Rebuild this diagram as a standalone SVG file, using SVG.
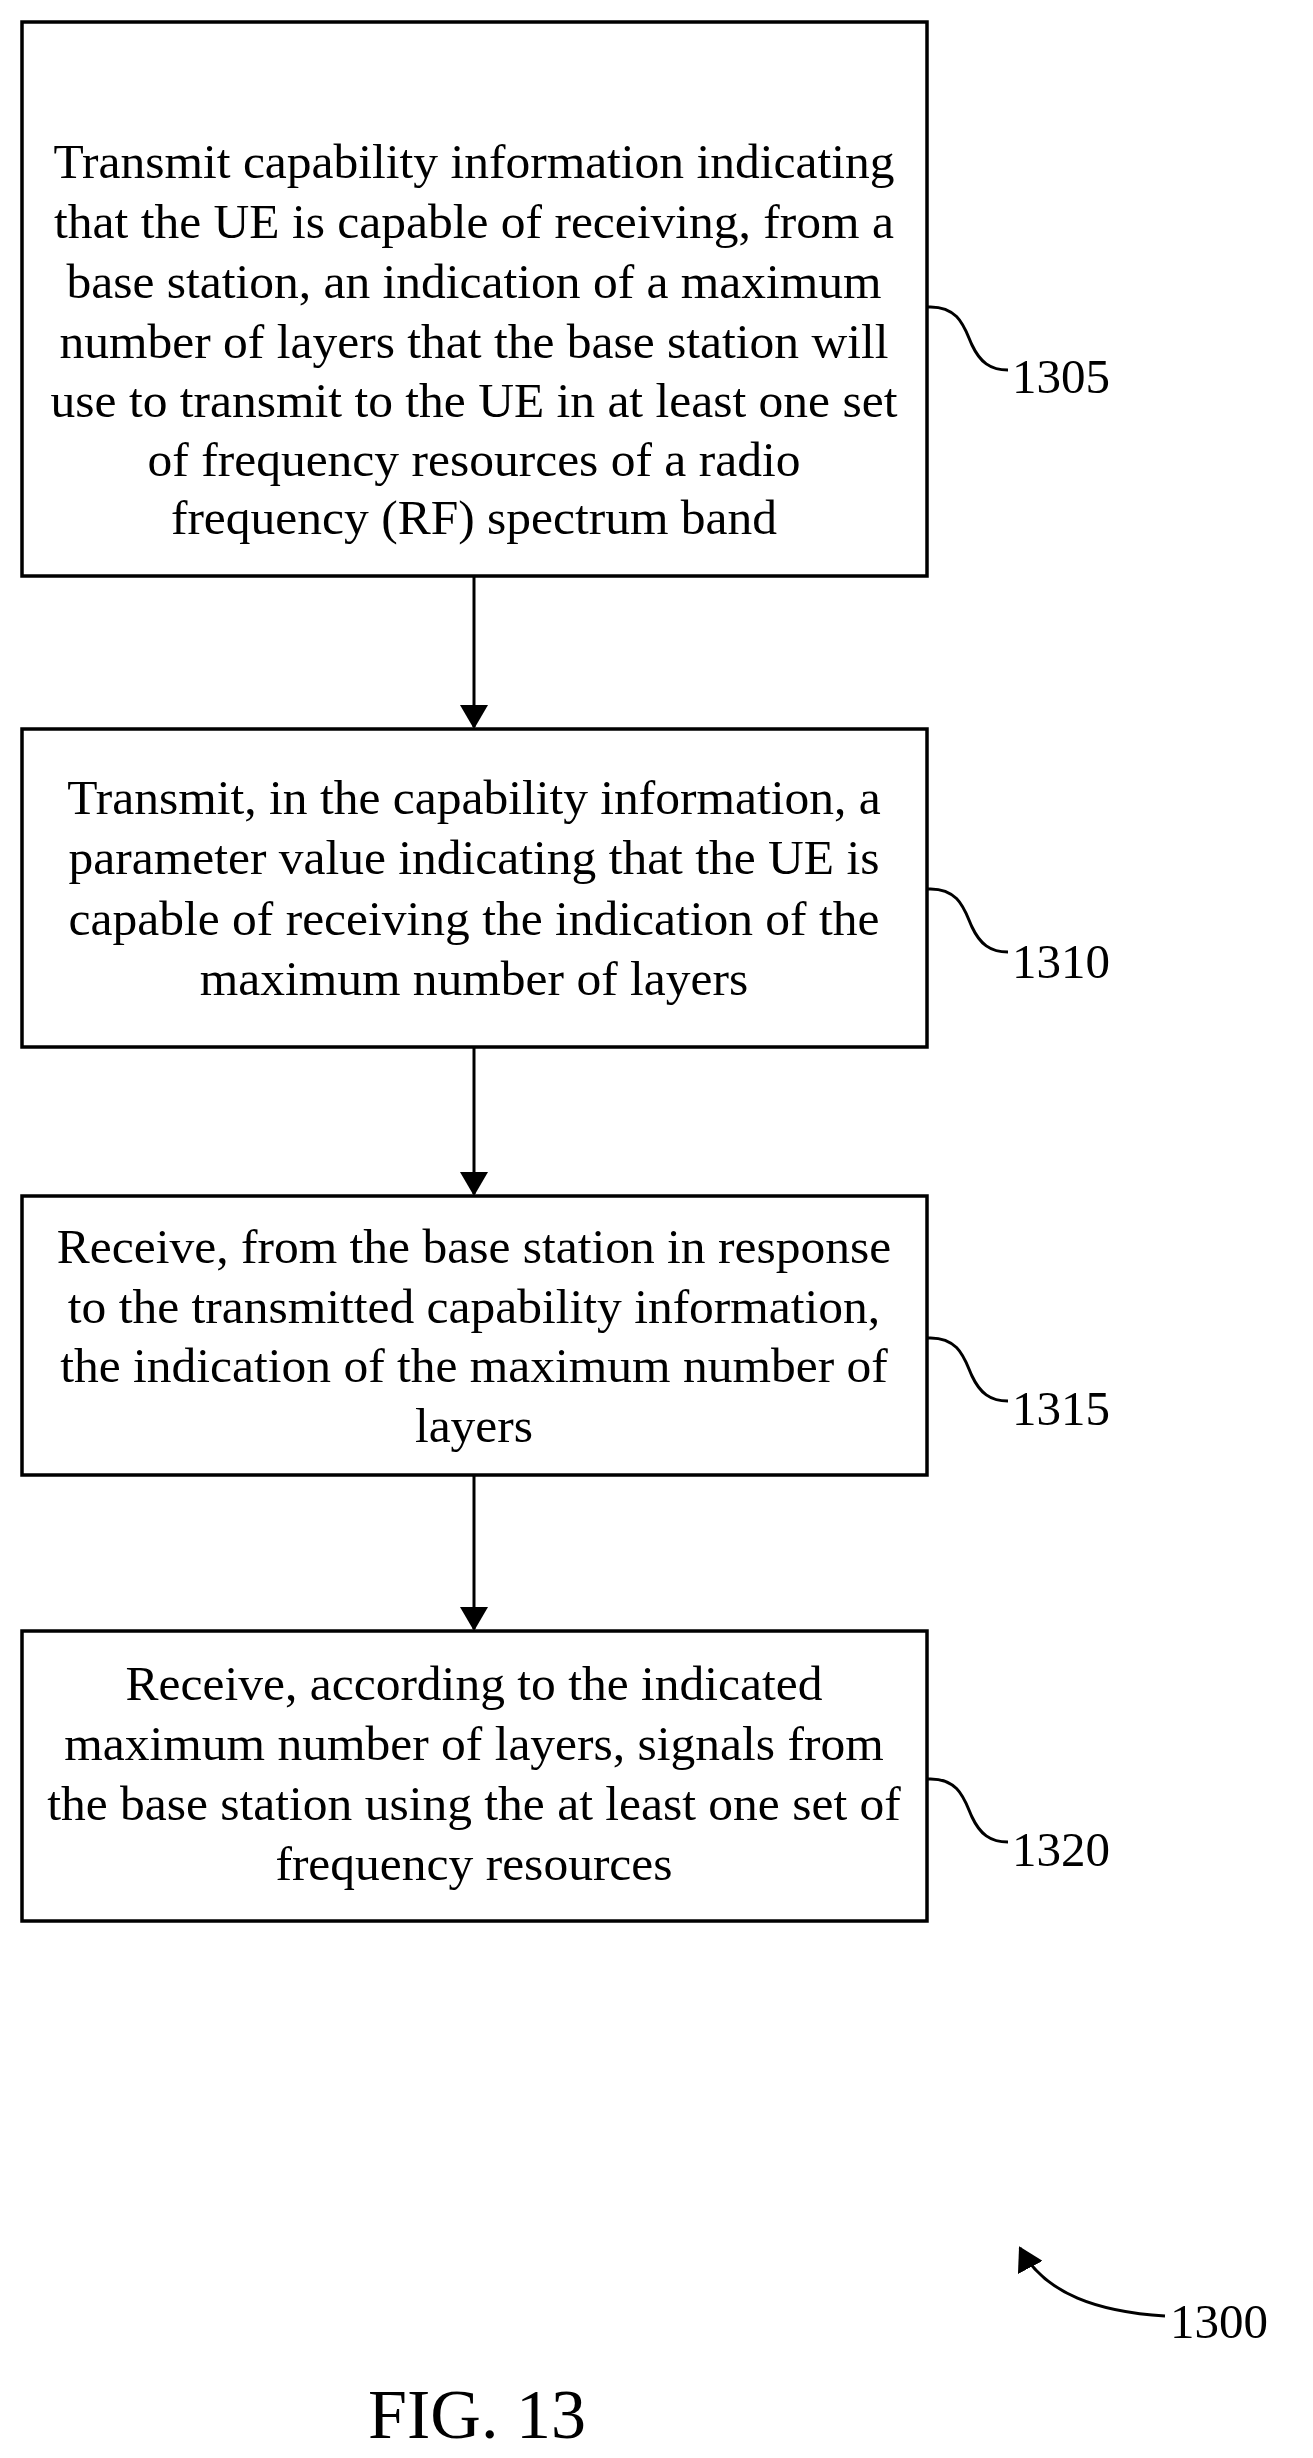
<svg xmlns="http://www.w3.org/2000/svg" width="1313" height="2458" viewBox="0 0 1313 2458">
<style>
.box{fill:#fff;stroke:#000;stroke-width:3.5}
.t{font-family:"Liberation Serif",serif;font-size:49.5px;text-anchor:middle;fill:#000}
.l{font-family:"Liberation Serif",serif;font-size:49px;fill:#000}
.c{fill:none;stroke:#000;stroke-width:3}
</style>
<defs><marker id="ab" markerWidth="24" markerHeight="28" refX="22" refY="14" orient="auto" markerUnits="userSpaceOnUse" viewBox="0 0 24 28"><path d="M0,0 L24,14 L0,28 z" fill="#000"/></marker></defs>
<rect width="1313" height="2458" fill="#fff"/>
<g id="n1305"><rect class="box" x="22" y="22" width="905" height="554"/>
<text class="t" x="474" y="178">Transmit capability information indicating</text>
<text class="t" x="474" y="238">that the UE is capable of receiving, from a</text>
<text class="t" x="474" y="298">base station, an indication of a maximum</text>
<text class="t" x="474" y="358">number of layers that the base station will</text>
<text class="t" x="474" y="417">use to transmit to the UE in at least one set</text>
<text class="t" x="474" y="476">of frequency resources of a radio</text>
<text class="t" x="474" y="534">frequency (RF) spectrum band</text>
<path class="c" d="M927,307 C960,305 965,330 972,345 C980,362 990,370 1008,370"/>
<text class="l" x="1012" y="393">1305</text></g>
<g id="n1310"><rect class="box" x="22" y="729" width="905" height="318"/>
<text class="t" x="474" y="814">Transmit, in the capability information, a</text>
<text class="t" x="474" y="874">parameter value indicating that the UE is</text>
<text class="t" x="474" y="935">capable of receiving the indication of the</text>
<text class="t" x="474" y="995">maximum number of layers</text>
<path class="c" d="M927,889 C960,887 965,912 972,927 C980,944 990,952 1008,952"/>
<text class="l" x="1012" y="978">1310</text></g>
<g id="n1315"><rect class="box" x="22" y="1196" width="905" height="279"/>
<text class="t" x="474" y="1263">Receive, from the base station in response</text>
<text class="t" x="474" y="1323">to the transmitted capability information,</text>
<text class="t" x="474" y="1382">the indication of the maximum number of</text>
<text class="t" x="474" y="1442">layers</text>
<path class="c" d="M927,1338 C960,1336 965,1361 972,1376 C980,1393 990,1401 1008,1401"/>
<text class="l" x="1012" y="1425">1315</text></g>
<g id="n1320"><rect class="box" x="22" y="1631" width="905" height="290"/>
<text class="t" x="474" y="1700">Receive, according to the indicated</text>
<text class="t" x="474" y="1760">maximum number of layers, signals from</text>
<text class="t" x="474" y="1820">the base station using the at least one set of</text>
<text class="t" x="474" y="1880">frequency resources</text>
<path class="c" d="M927,1779 C960,1777 965,1802 972,1817 C980,1834 990,1842 1008,1842"/>
<text class="l" x="1012" y="1866">1320</text></g>
<g id="connectors">
<line class="c" x1="474" y1="576" x2="474" y2="727" marker-end="url(#ab)"/>
<line class="c" x1="474" y1="1047" x2="474" y2="1194" marker-end="url(#ab)"/>
<line class="c" x1="474" y1="1475" x2="474" y2="1629" marker-end="url(#ab)"/>
<path class="c" d="M1165,2316 C1100,2312 1045,2295 1020,2248" marker-end="url(#ab)"/>
</g>
<text class="l" x="1170" y="2338">1300</text>
<text class="t" x="477" y="2438" style="font-size:70px">FIG. 13</text>
</svg>
